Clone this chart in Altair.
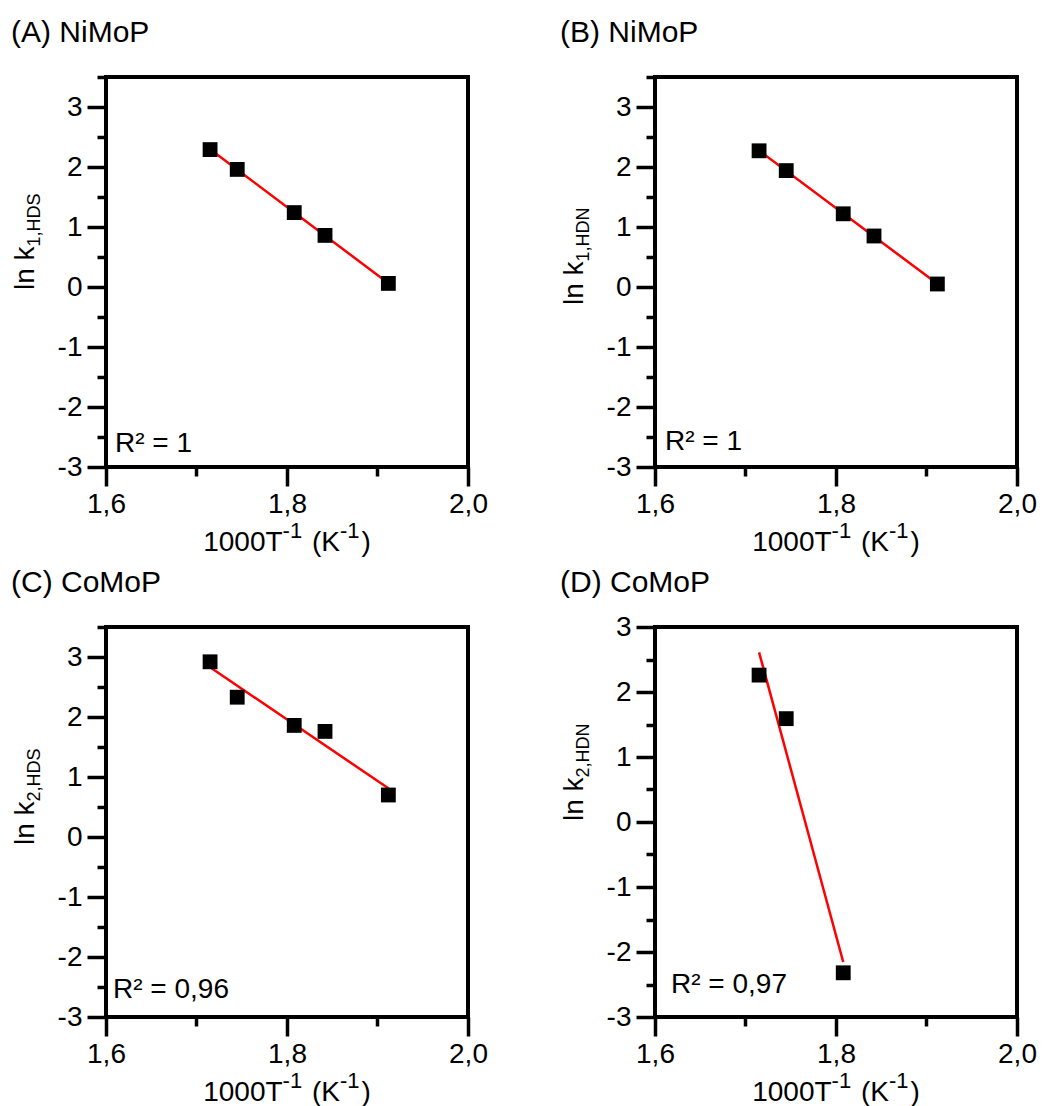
import altair as alt
import pandas as pd

FONT = "Liberation Sans"
FS = 28
TITLE_FS = 30
SUB_FS = 18
SUP_FS = 22
W, H = 362, 390

# ---- data ----
x_inv_T = [1.715, 1.745, 1.808, 1.842, 1.912]
ln_k1_hds = [2.29, 1.96, 1.24, 0.86, 0.06]
ln_k1_hdn = [2.27, 1.94, 1.22, 0.85, 0.05]
ln_k2_hds = [2.92, 2.33, 1.86, 1.76, 0.70]
x_inv_T_d = [1.715, 1.745, 1.808]
ln_k2_hdn = [2.26, 1.59, -2.32]

panel_titles = ["(A) NiMoP", "(B) NiMoP", "(C) CoMoP", "(D) CoMoP"]
y_subs = ["1,HDS", "1,HDN", "2,HDS", "2,HDN"]
r2_labels = ["R\u00b2 = 1", "R\u00b2 = 1", "R\u00b2 = 0,96", "R\u00b2 = 0,97"]
x_ticks = [1.6, 1.7, 1.8, 1.9, 2.0]
y_ticks_abc = [-3, -2.5, -2, -1.5, -1, -0.5, 0, 0.5, 1, 1.5, 2, 2.5, 3, 3.5]
y_ticks_d = [-3, -2.5, -2, -1.5, -1, -0.5, 0, 0.5, 1, 1.5, 2, 2.5, 3]

# Arial / Liberation Sans advance widths (per 1000 em)
AW = {'0': 556, '1': 556, '2': 556, '3': 556, '4': 556, '5': 556, '6': 556,
      '7': 556, '8': 556, '9': 556, 'T': 611, ' ': 278, '(': 333, ')': 333,
      'K': 667, '-': 333, 'l': 222, 'n': 556, 'k': 500, ',': 278, 'H': 722,
      'D': 722, 'S': 667, 'N': 722}


def tw(s, fs):
    return sum(AW.get(c, 556) for c in s) * fs / 1000.0


def txt(s, x, y, fs, angle=0, align="left"):
    return alt.Chart(pd.DataFrame({"t": [s]})).mark_text(
        align=align, baseline="alphabetic", font=FONT, fontSize=fs,
        angle=angle, color="black"
    ).encode(text="t:N", x=alt.value(x), y=alt.value(y))


XMAJ = "round(datum.value*10) % 2 === 0"
YMAJ = "round(datum.value*2) % 2 === 0"


def panel(xs, ys, ydom, yticks, title, sub, r2, yt_bottom, r2x, r2y):
    df = pd.DataFrame({"x": xs, "y": ys})
    xenc = alt.X(
        "x:Q",
        scale=alt.Scale(domain=[1.6, 2.0], nice=False, zero=False),
        axis=alt.Axis(
            values=x_ticks, title=None, domain=False, grid=False,
            tickColor="black", tickWidth=3.5,
            tickSize={"condition": {"test": XMAJ, "value": 19}, "value": 9},
            labelExpr=XMAJ + " ? replace(format(datum.value, '.1f'), '.', ',') : ''",
            labelFont=FONT, labelFontSize=FS, labelColor="black",
            labelPadding=4, labelOverlap=False, labelFlush=False,
        ),
    )
    yenc = alt.Y(
        "y:Q",
        scale=alt.Scale(domain=ydom, nice=False, zero=False),
        axis=alt.Axis(
            values=yticks, title=None, domain=False, grid=False,
            tickColor="black", tickWidth=3.5,
            tickSize={"condition": {"test": YMAJ, "value": 19}, "value": 9},
            labelExpr=YMAJ + " ? '' + datum.value : ''",
            labelFont=FONT, labelFontSize=FS, labelColor="black",
            labelPadding=5, labelOverlap=False, labelFlush=False,
        ),
    )
    frame = alt.Chart(pd.DataFrame({"f": [0]})).mark_rect(
        filled=False, stroke="black", strokeWidth=4
    ).encode(x=alt.value(0), x2=alt.value(W), y=alt.value(0), y2=alt.value(H))
    pts = alt.Chart(df).mark_square(size=220, color="black", opacity=1).encode(x=xenc, y=yenc)
    line = alt.Chart(df).transform_regression("x", "y").mark_line(
        color="red", strokeWidth=2.5).encode(x=xenc, y=yenc)

    layers = [line, pts, frame]
    layers.append(txt(title, -95, -35, TITLE_FS))
    layers.append(txt("ln k", -72, yt_bottom, FS, angle=270))
    layers.append(txt(sub, -66, yt_bottom - tw("ln k", FS), SUB_FS, angle=270))
    # x title pieces (a leading space would be collapsed in SVG, so it is an advance)
    parts = [("1000T", FS, 0, 0), ("-1", SUP_FS, -13, 2), (" ", FS, 0, 0), ("(K", FS, 0, 0),
             ("-1", SUP_FS, -13, 2), (")", FS, 0, 0)]
    total = sum(tw(p, f) + k for p, f, _, k in parts)
    cx = W / 2 - total / 2
    for p, f, dy, k in parts:
        if p.strip():
            layers.append(txt(p, cx, H + 84 + dy, f))
        cx += tw(p, f) + k
    layers.append(txt(r2, r2x, r2y, FS))
    return alt.layer(*layers).properties(width=W, height=H)


pA = panel(x_inv_T, ln_k1_hds, [-3, 3.5], y_ticks_abc, panel_titles[0], y_subs[0], r2_labels[0], 213, 9, 375)
pB = panel(x_inv_T, ln_k1_hdn, [-3, 3.5], y_ticks_abc, panel_titles[1], y_subs[1], r2_labels[1], 228, 10, 373)
pC = panel(x_inv_T, ln_k2_hds, [-3, 3.5], y_ticks_abc, panel_titles[2], y_subs[2], r2_labels[2], 218, 7, 371)
pD = panel(x_inv_T_d, ln_k2_hdn, [-3, 3], y_ticks_d, panel_titles[3], y_subs[3], r2_labels[3], 194, 16, 366)

chart = alt.concat(pA, pB, pC, pD, columns=2, spacing={"row": 11, "column": 72}).properties(
    padding={"left": 11, "top": 18, "right": 5, "bottom": 0},
    background="white",
).configure_view(stroke=None)

chart.save("out.html", embed_options={"renderer": "svg", "actions": False})
